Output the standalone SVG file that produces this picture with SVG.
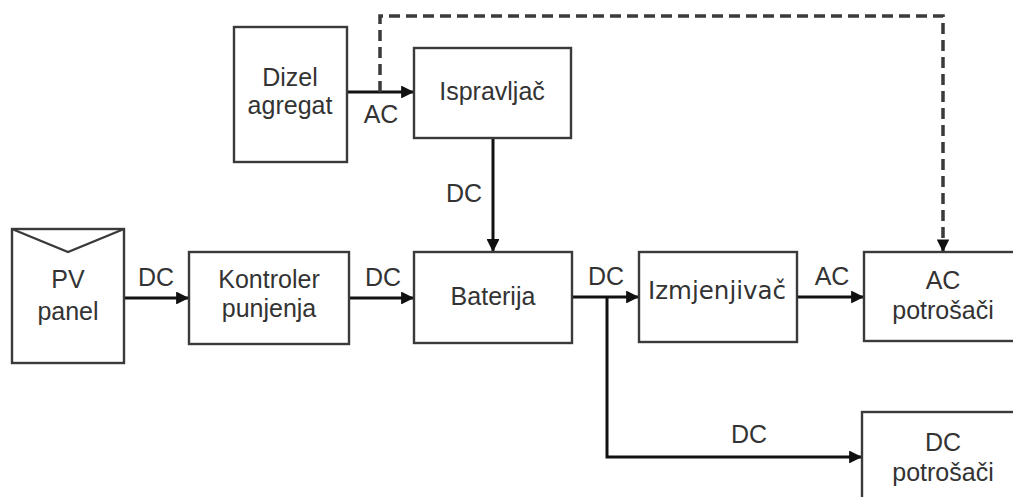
<svg xmlns="http://www.w3.org/2000/svg" width="1013" height="497" viewBox="0 0 1013 497">
<style>
.box{fill:#fff;stroke:#3a3a3a;stroke-width:2.4}
.t{font-family:"Liberation Sans",Arial,sans-serif;font-size:25px;fill:#333;text-anchor:middle}
.tv{font-family:"DejaVu Sans",Verdana,sans-serif;font-size:24.5px;fill:#333;text-anchor:middle}
.c{fill:none;stroke:#111;stroke-width:3}
.d{fill:none;stroke:#3a3a3a;stroke-width:3.5;stroke-dasharray:11 6}
</style>
<defs>
<marker id="ah" viewBox="0 0 10 10" refX="10" refY="5" markerWidth="4.3" markerHeight="4.3" markerUnits="strokeWidth" orient="auto">
<path d="M0,0 L10,5 L0,10 Z" fill="#111"/>
</marker>
<marker id="ahd" viewBox="0 0 10 10" refX="10" refY="5" markerWidth="3.6" markerHeight="3.6" markerUnits="strokeWidth" orient="auto">
<path d="M0,0 L10,5 L0,10 Z" fill="#111"/>
</marker>
</defs>
<rect width="1013" height="497" fill="#fff"/>
<g id="connectors">
<path class="c" d="M124,298 H189" marker-end="url(#ah)"/>
<path class="c" d="M349,298 H414" marker-end="url(#ah)"/>
<path class="c" d="M572,297 H639" marker-end="url(#ah)"/>
<path class="c" d="M797,297 H864" marker-end="url(#ah)"/>
<path class="c" d="M607,297 V457 H862" marker-end="url(#ah)"/>
<path class="c" d="M347,92 H414" marker-end="url(#ah)"/>
<path class="c" d="M493,138 V252" marker-end="url(#ah)"/>
<path class="d" d="M380,92 V16 H943 V252" marker-end="url(#ahd)"/>
<text class="t" x="156" y="286">DC</text>
<text class="t" x="383" y="286">DC</text>
<text class="t" x="606" y="285">DC</text>
<text class="t" x="832" y="285">AC</text>
<text class="t" x="381" y="123">AC</text>
<text class="t" x="464" y="202">DC</text>
<text class="t" x="749" y="443">DC</text>
</g>
<g id="pv">
<rect class="box" x="12" y="229" width="112" height="134"/>
<path d="M12,229 L68,252 L124,229" fill="none" stroke="#3a3a3a" stroke-width="2.4"/>
<text class="t" x="68" y="288">PV</text>
<text class="t" x="68" y="320">panel</text>
</g>
<g id="dizel">
<rect class="box" x="234" y="27" width="113" height="135"/>
<text class="t" x="290" y="86">Dizel</text>
<text class="t" x="290" y="114">agregat</text>
</g>
<g id="ispravljac">
<rect class="box" x="414" y="48" width="157" height="90"/>
<text class="t" x="492" y="100">Ispravljač</text>
</g>
<g id="kontroler">
<rect class="box" x="189" y="252" width="160" height="92"/>
<text class="t" x="269" y="288">Kontroler</text>
<text class="t" x="269" y="317">punjenja</text>
</g>
<g id="baterija">
<rect class="box" x="414" y="252" width="158" height="91"/>
<text class="t" x="493" y="305">Baterija</text>
</g>
<g id="izmjenjivac">
<rect class="box" x="639" y="252" width="158" height="90"/>
<text class="tv" x="717" y="299">Izmjenjivač</text>
</g>
<g id="ac-potrosaci">
<rect class="box" x="864" y="252" width="160" height="89"/>
<text class="t" x="943" y="289">AC</text>
<text class="t" x="943" y="319">potrošači</text>
</g>
<g id="dc-potrosaci">
<rect class="box" x="862" y="412" width="162" height="100"/>
<text class="t" x="943" y="451">DC</text>
<text class="t" x="943" y="481">potrošači</text>
</g>
</svg>
